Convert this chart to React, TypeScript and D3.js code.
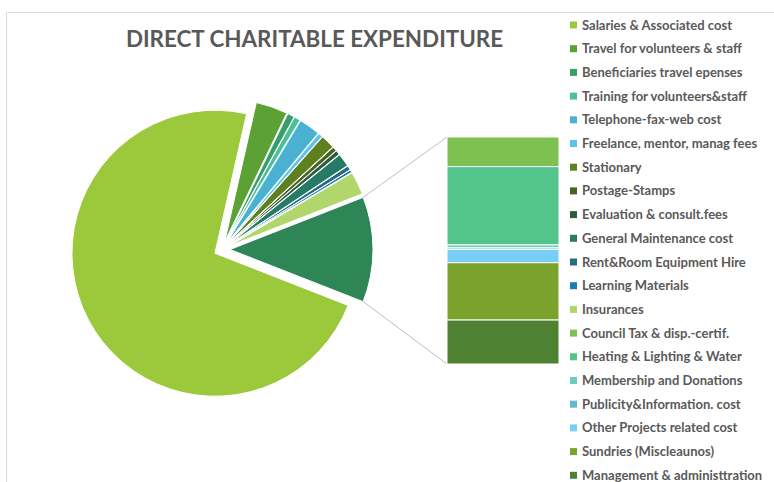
import React from "react";
import * as d3 from "d3";

// slices drawn in the main pie
const pieLabels = [
  "Salaries & Associated cost",
  "Travel for volunteers & staff",
  "Beneficiaries travel epenses",
  "Training for volunteers&staff",
  "Telephone-fax-web cost",
  "Freelance, mentor, manag fees",
  "Stationary",
  "Postage-Stamps",
  "Evaluation & consult.fees",
  "General Maintenance cost",
  "Rent&Room Equipment Hire",
  "Learning Materials",
  "Insurances",
];
const pieValues = [72.6, 3.6, 0.8, 0.7, 2.4, 0.5, 1.6, 0.5, 0.5, 1.5, 0.5, 0.3, 2.6];
const pieColors = [
  "#9bc93b", "#5ca134", "#379e6c", "#4cbf9b", "#4bb1d3", "#5ac3ef",
  "#5e801f", "#476424", "#2b5d3e", "#267b66", "#2a6c7c", "#1b7bb6", "#b1d66b",
];

// items split out into the bar
const barLabels = [
  "Council Tax & disp.-certif.",
  "Heating & Lighting & Water",
  "Membership and Donations",
  "Publicity&Information. cost",
  "Other Projects related cost",
  "Sundries (Miscleaunos)",
  "Management & administtration",
];
const barValues = [1.55, 4.1, 0.15, 0.08, 0.7, 3.0, 2.3];
const barColors = ["#7dc250", "#52c48c", "#6dcbb9", "#64b8d0", "#78cff5", "#7aa22c", "#4e8232"];
const otherColor = "#2e8556";

const W = 774;
const H = 482;
const cx = 222;
const cy = 249.5;
const r = 143;
const explode = 8;
const barX0 = 447;
const barX1 = 559;
const barY0 = 137;
const barY1 = 364;

export default function App() {
  const pieSum = d3.sum(pieValues);
  const barSum = d3.sum(barValues);
  const total = pieSum + barSum;
  const data = [...pieValues, barSum];
  const colors = [...pieColors, otherColor];

  // rotate so the "other" slice faces the bar
  const rot = Math.PI / 2 - (barSum / total) * Math.PI - (pieSum / total) * 2 * Math.PI;
  const arcs = d3.pie<number>().sort(null).startAngle(rot).endAngle(rot + 2 * Math.PI)(data);
  const arc = d3.arc<d3.PieArcDatum<number>>().innerRadius(0).outerRadius(r);

  const off = (a: d3.PieArcDatum<number>) => {
    const m = (a.startAngle + a.endAngle) / 2;
    return [explode * Math.sin(m), -explode * Math.cos(m)];
  };

  const other = arcs[arcs.length - 1];
  const [ox, oy] = off(other);
  const p0 = [cx + ox + r * Math.sin(other.startAngle), cy + oy - r * Math.cos(other.startAngle)];
  const p1 = [cx + ox + r * Math.sin(other.endAngle), cy + oy - r * Math.cos(other.endAngle)];

  const y = d3.scaleLinear().domain([0, barSum]).range([barY0, barY1]);
  const stacked = d3.cumsum(barValues);

  const legendLabels = [...pieLabels, ...barLabels];
  const legendColors = [...pieColors, ...barColors];

  return (
    <div style={{ position: "absolute", left: 0, top: 0 }}>
      <svg width={W} height={H} style={{ display: "block", background: "#fff" }}>
        <path d={`M6.5,${H}V12.5H${W}`} fill="none" stroke="#d9d9d9" />
        <text
          x={314.5}
          y={47}
          textAnchor="middle"
          fill="#595959"
          style={{ font: "bold 22.4px Lato" }}
        >
          DIRECT CHARITABLE EXPENDITURE
        </text>

        <g transform={`translate(${cx},${cy})`}>
          {arcs.map((a, i) => {
            const [dx, dy] = off(a);
            return (
              <path
                key={i}
                d={arc(a) || ""}
                transform={`translate(${dx},${dy})`}
                fill={colors[i]}
                stroke="#fff"
                strokeWidth={1}
              />
            );
          })}
        </g>

        <line x1={p0[0]} y1={p0[1]} x2={barX0} y2={barY0} stroke="#bfbfbf" />
        <line x1={p1[0]} y1={p1[1]} x2={barX0} y2={barY1} stroke="#bfbfbf" />

        {barValues.map((v, i) => (
          <rect
            key={i}
            x={barX0}
            y={y(stacked[i] - v)}
            width={barX1 - barX0}
            height={y(stacked[i]) - y(stacked[i] - v)}
            fill={barColors[i]}
            stroke="#fff"
            strokeWidth={1}
          />
        ))}

        {legendLabels.map((l, i) => (
          <g key={i} transform={`translate(570,${25 + i * 23.7})`}>
            <rect x={0} y={-3.5} width={7} height={7} fill={legendColors[i]} />
            <text x={12} y={0} dy="0.35em" fill="#595959" style={{ font: "bold 13px Lato" }}>
              {l}
            </text>
          </g>
        ))}
      </svg>
    </div>
  );
}
